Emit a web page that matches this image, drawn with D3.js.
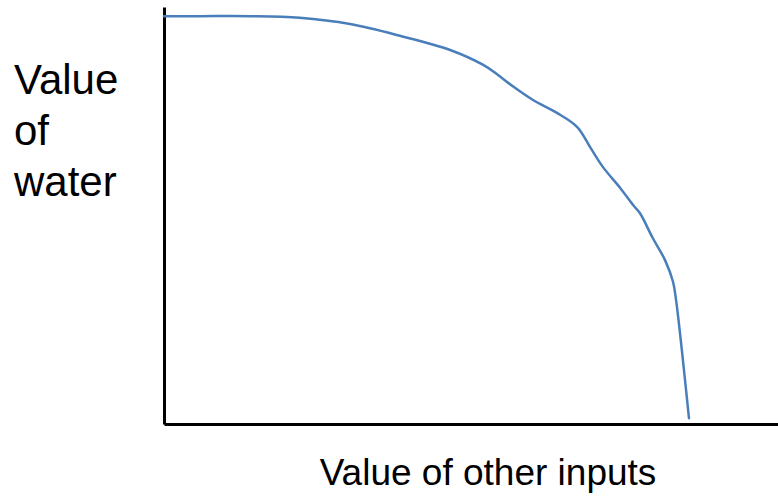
<!DOCTYPE html>
<html><head><meta charset="utf-8">
<script src="https://cdn.jsdelivr.net/npm/d3@7"></script>
<style>body{margin:0;background:#fff}svg{display:block}text{font-family:"Liberation Sans",Arial,Helvetica,sans-serif;fill:#000}</style>
</head><body>
<script>
const xValues = [0, 5.9, 14.0, 22.1, 30.3, 38.4, 46.6, 52.0, 54.4, 56.7, 60.1, 64.0, 67.3, 69.4, 71.5, 74.3, 76.4, 77.5, 79.6, 81.6, 82.9, 83.4, 85.5];
const yValues = [97.8, 97.8, 97.8, 97.4, 95.9, 93.1, 89.7, 86.1, 83.7, 81.1, 77.7, 74.6, 71.2, 66.4, 61.6, 56.6, 52.5, 50.6, 44.6, 39.3, 34.1, 29.7, 1.4];
const yLabelLines = ["Value", "of", "water"];
const xLabel = "Value of other inputs";

const W = 778, H = 500;
const svg = d3.select("body").append("svg").attr("width", W).attr("height", H);
const x = d3.scaleLinear().domain([0, 100]).range([164, 778]);
const y = d3.scaleLinear().domain([0, 100]).range([424, 7]);

// axes (no ticks)
svg.append("g").attr("transform", `translate(0,${y(0)})`)
  .call(d3.axisBottom(x).ticks(0).tickSize(0).tickSizeOuter(0))
  .call(g => g.select(".domain").attr("stroke", "#000").attr("stroke-width", 3));
svg.append("g").attr("transform", `translate(${x(0)},0)`)
  .call(d3.axisLeft(y).ticks(0).tickSize(0).tickSizeOuter(0))
  .call(g => g.select(".domain").attr("stroke", "#000").attr("stroke-width", 3));

const pts = xValues.map((v, i) => [v, yValues[i]]);
const line = d3.line().x(d => x(d[0])).y(d => y(d[1])).curve(d3.curveCatmullRom.alpha(0.5));
svg.append("path").datum(pts).attr("d", line)
  .attr("fill", "none").attr("stroke", "#4a7ebb").attr("stroke-width", 2.5).attr("stroke-linecap", "round");

svg.append("g").selectAll("text").data(yLabelLines).join("text")
  .attr("x", 14).attr("y", (d, i) => 94 + i * 51)
  .attr("font-size", 42).text(d => d);

svg.append("text").attr("x", 488).attr("y", 485).attr("text-anchor", "middle")
  .attr("font-size", 37).text(xLabel);
</script>
</body></html>
